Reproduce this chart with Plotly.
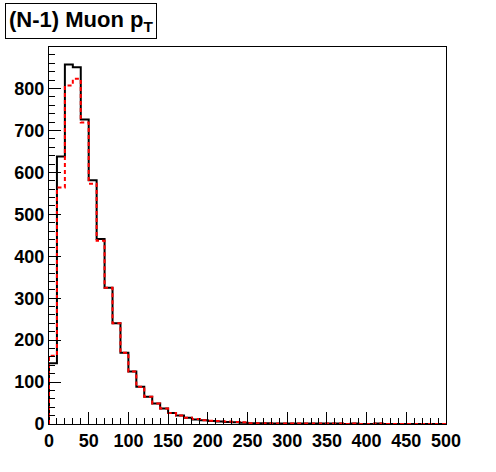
import numpy as np
import plotly.graph_objects as go

bin_edges = list(range(0, 510, 10))
black_counts = [145, 638, 857, 851, 726, 581, 441, 325, 240, 170,
                125, 89, 65, 49, 37, 26, 20, 15, 11, 9,
                7, 6, 5, 4, 3, 2, 2, 2, 1, 1,
                1, 1, 1, 1, 1, 1, 1, 0, 1, 0,
                0, 1, 0, 0, 0, 0, 0, 0, 0, 0]
red_counts = [163, 564, 807, 823, 719, 573, 437, 325, 240, 170,
              125, 89, 65, 49, 37, 26, 20, 15, 12, 9,
              8, 7, 6, 5, 4, 2, 2, 2, 1, 1,
              1, 1, 1, 1, 1, 1, 1, 0, 1, 0,
              0, 1, 0, 0, 0, 0, 0, 0, 0, 0]
title_text = "(N-1) Muon p<sub>T</sub>"


def step_xy(edges, counts):
    xs = [edges[0]] + list(edges[:-1]) + [edges[-1], edges[-1]]
    ys = [0] + list(counts) + [counts[-1], 0]
    return xs, ys


fig = go.Figure()
bx, by = step_xy(bin_edges, black_counts)
rx, ry = step_xy(bin_edges, red_counts)
fig.add_trace(go.Scatter(x=bx, y=by, mode="lines", line=dict(color="black", width=2, shape="hv"),
                         showlegend=False, hoverinfo="skip"))
fig.add_trace(go.Scatter(x=rx, y=ry, mode="lines", line=dict(color="red", width=2, shape="hv", dash="4px,3px"),
                         showlegend=False, hoverinfo="skip"))

W, H = 496, 472
L, R, T, B = 49, 50, 47, 48
pw, ph = W - L - R, H - T - B

tickfont = dict(family="Liberation Sans, Arial, sans-serif", size=18, color="black", weight="bold")
fig.update_xaxes(range=[0, 500], tickmode="linear", tick0=0, dtick=50,
                 ticks="inside", ticklen=12, tickwidth=1, tickcolor="black",
                 minor=dict(ticks="inside", ticklen=6, dtick=10, tickcolor="black", tickwidth=1),
                 showline=True, linecolor="black", linewidth=1, mirror=True,
                 showgrid=False, zeroline=False, tickfont=tickfont, automargin=False)
fig.update_yaxes(range=[0, 899], tickmode="linear", tick0=0, dtick=100,
                 ticks="inside", ticklen=12, tickwidth=1, tickcolor="black",
                 minor=dict(ticks="inside", ticklen=6, dtick=20, tickcolor="black", tickwidth=1),
                 showline=True, linecolor="black", linewidth=1, mirror=True,
                 showgrid=False, zeroline=False, tickfont=tickfont, automargin=False)

fig.add_annotation(text=title_text, xref="paper", yref="paper",
                   x=(5 - L) / pw, y=(H - B - 3) / ph, xanchor="left", yanchor="top",
                   showarrow=False, align="left",
                   font=dict(family="Liberation Sans, Arial, sans-serif", size=22, color="black", weight="bold"),
                   bordercolor="black", borderwidth=1, borderpad=3, bgcolor="white")

fig.update_layout(width=W, height=H, margin=dict(l=L, r=R, t=T, b=B),
                  plot_bgcolor="white", paper_bgcolor="white")
fig.write_html("out.html", config={"displayModeBar": False},
               post_script="document.body.style.margin='0';document.body.style.padding='0';")
